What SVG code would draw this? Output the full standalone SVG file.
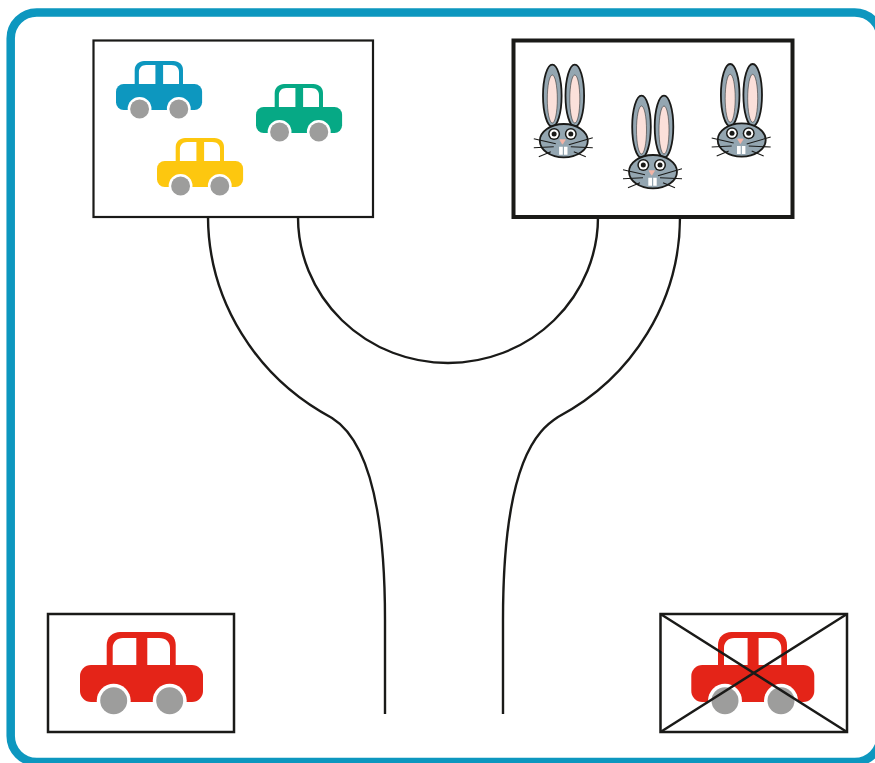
<svg xmlns="http://www.w3.org/2000/svg" width="875" height="763" viewBox="0 0 875 763">
<style>
.box{fill:#fff;stroke:#1a1a18;stroke-width:2.200}
.line{fill:none;stroke:#1a1a18;stroke-width:2.400}
.blue{color:#0d97bf}.teal{color:#06a985}.yellow{color:#fdc70f}.red{color:#e42418}
.ear{fill:#94a6b1;stroke:#1a1a18;stroke-width:1.800}
.inner{fill:#fbe0da;stroke:#1a1a18;stroke-width:.5}
.wh{fill:none;stroke:#1a1a18;stroke-width:1.100}
</style>
<defs>
<g id="car">
<path fill="currentColor" d="M26.700 0V-20C26.700-28 33-33 40-33H82C90-33 95.700-28 95.700-20V0Z"/>
<path fill="#fff" d="M32.700 0V-17C32.700-23 37-27 43-27H56.300V0ZM67.300 0V-27H79C86-27 90-23 90-17V0Z"/>
<rect fill="currentColor" x="0" y="0" width="123" height="37" rx="11"/>
<circle cx="33.700" cy="35.700" r="17" fill="#fff"/>
<circle cx="89.700" cy="35.700" r="17" fill="#fff"/>
<circle cx="33.700" cy="35.700" r="13.500" fill="#9d9d9c"/>
<circle cx="89.700" cy="35.700" r="13.500" fill="#9d9d9c"/>
</g>
<g id="rabbit">
<ellipse class="ear" cx="-11.500" cy="-45" rx="9.300" ry="31"/>
<ellipse class="ear" cx="11" cy="-45" rx="9.300" ry="31"/>
<ellipse class="inner" cx="-11.500" cy="-41.700" rx="5" ry="24"/>
<ellipse class="inner" cx="11" cy="-41.700" rx="5" ry="24"/>
<ellipse class="ear" cx="0" cy="0" rx="24" ry="16.700"/>
<circle cx="-9.700" cy="-6.700" r="6" fill="#1a1a18"/>
<circle cx="7" cy="-6.700" r="6" fill="#1a1a18"/>
<circle cx="-9.700" cy="-6.700" r="4.500" fill="#fff"/>
<circle cx="7" cy="-6.700" r="4.500" fill="#fff"/>
<circle cx="-9.700" cy="-6.700" r="2.500" fill="#1a1a18"/>
<circle cx="7" cy="-6.700" r="2.500" fill="#1a1a18"/>
<path d="M-4-1H1.500L-1.300 3.500Z" fill="#f3b5a7" stroke="#f3b5a7" stroke-width=".8"/>
<path d="M-4.700 6H-1V14H-4.700ZM.2 6H3.700V14H.2Z" fill="#fff"/>
<path class="wh" d="M-30-2L-8 3M-30 7L-10 6M-25 16L-13 11M29-3L5 4M29 7L7 6M22 16L10 11"/>
</g>
</defs>
<rect id="frame" x="10.700" y="12.400" width="870" height="749.600" rx="26" fill="#fff" stroke="#0d97bf" stroke-width="8.500"/>
<g id="connectors">
<path class="line" d="M208 217A240 231 0 0 0 332 418C348 428 385 460 385 620L385 714"/>
<path class="line" d="M680 217A232 227 0 0 1 558 417C538 430 503 460 503 620L503 714"/>
<path class="line" d="M298 217A150 146 0 0 0 598 217"/>
</g>
<g id="cars-box">
<rect class="box" x="93.500" y="40.500" width="279.500" height="176.500"/>
<use href="#car" class="blue" transform="translate(116 84) scale(.7)"/>
<use href="#car" class="teal" transform="translate(256 107) scale(.7)"/>
<use href="#car" class="yellow" transform="translate(157 161) scale(.7)"/>
</g>
<g id="rabbits-box">
<rect class="box" style="stroke-width:4" x="513.500" y="40.500" width="279" height="176.500"/>
<use href="#rabbit" transform="translate(563.800 140.700)"/>
<use href="#rabbit" transform="translate(653 171.700)"/>
<use href="#rabbit" transform="translate(741.700 140)"/>
</g>
<g id="car-yes">
<rect class="box" style="stroke-width:2.500" x="48" y="614" width="186" height="118"/>
<use href="#car" class="red" transform="translate(80 665)"/>
</g>
<g id="car-no">
<rect class="box" style="stroke-width:2.500" x="660.500" y="614" width="186.500" height="118"/>
<use href="#car" class="red" transform="translate(691.300 665)"/>
<path class="line" d="M660.500 614L847 732M847 614L660.500 732"/>
</g>
</svg>
